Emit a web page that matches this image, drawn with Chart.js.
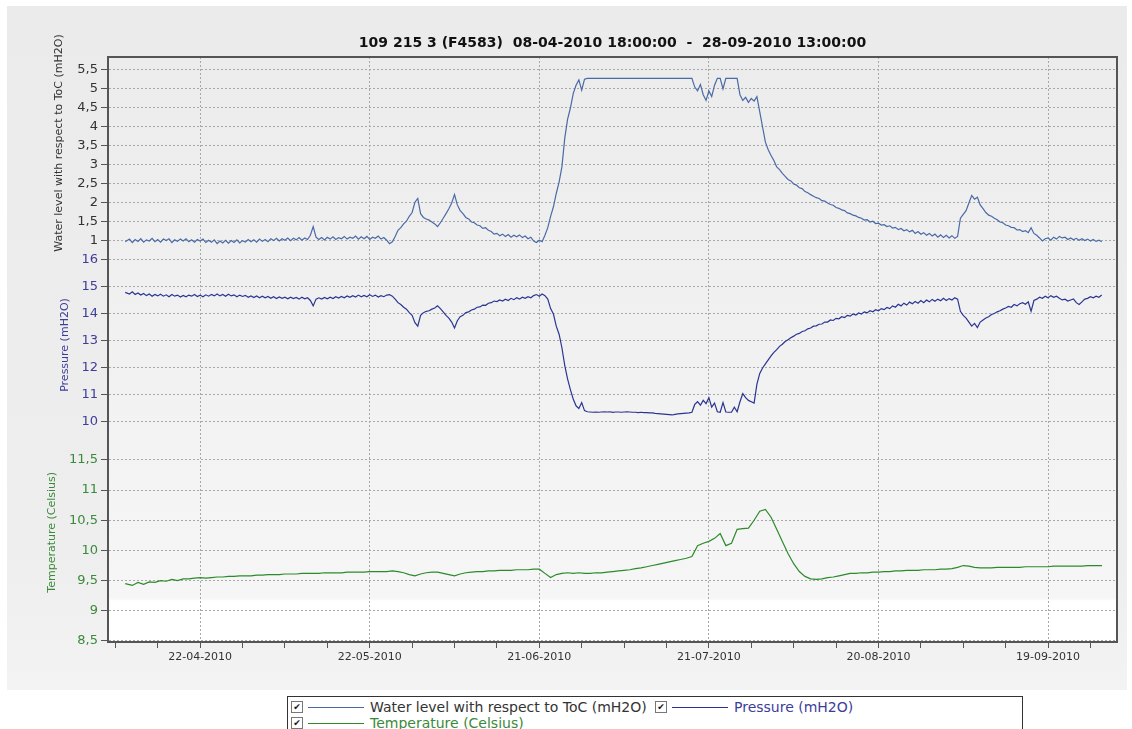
<!DOCTYPE html>
<html>
<head>
<meta charset="utf-8">
<title>109 215 3 (F4583)</title>
<script src="https://cdn.jsdelivr.net/npm/chart.js@4.4.1/dist/chart.umd.min.js"></script>
<style>
    html, body { margin: 0; padding: 0; background: #ffffff; }
    #wrap { position: relative; width: 1132px; height: 729px; overflow: hidden; background: #ffffff; }
    #panel { position: absolute; left: 7px; top: 6px; width: 1120px; height: 684px;
             background: linear-gradient(#ebebeb, #eeeeee 80%, #f3f3f3); }
    #chart { position: absolute; left: 0; top: 0; }
    #legend { position: absolute; left: 287px; top: 696px; width: 736px; height: 44px;
              background: #ffffff; border: 1px solid #333333; box-sizing: border-box;
              font-family: 'DejaVu Sans', sans-serif; font-size: 14px; }
    .row { position: absolute; left: 3px; height: 16px; white-space: nowrap; }
    .item { position: absolute; top: 0; height: 16px; }
    .cb { position: absolute; top: 2px; width: 12px; height: 12px; border: 1px solid #777;
          background: #fff; box-sizing: border-box; font-size: 9px; line-height: 10px;
          text-align: center; color: #111; }
    .ln { position: absolute; top: 8px; width: 56px; height: 0; border-top: 1px solid; }
    .tx { position: absolute; top: 0; line-height: 16px; }
</style>
</head>
<body>
<div id="wrap">
    <div id="panel"></div>
    <canvas id="chart" width="1132" height="729"></canvas>
    <div id="legend"></div>
</div>
<script>
// time axis in days, day 0 = 22-04-2010 00:00
// logger runs from 08-04-2010 18:00 (-13.25) to 28-09-2010 13:00 (159.54)

// sample times for water level and pressure (twice a day)
const halfDays = [
    -13.25,
    -12.5, -12, -11.5, -11, -10.5, -10, -9.5, -9, -8.5, -8,
    -7.5, -7, -6.5, -6, -5.5, -5, -4.5, -4, -3.5, -3,
    -2.5, -2, -1.5, -1, -0.5, 0, 0.5, 1, 1.5, 2,
    2.5, 3, 3.5, 4, 4.5, 5, 5.5, 6, 6.5, 7,
    7.5, 8, 8.5, 9, 9.5, 10, 10.5, 11, 11.5, 12,
    12.5, 13, 13.5, 14, 14.5, 15, 15.5, 16, 16.5, 17,
    17.5, 18, 18.5, 19, 19.5, 20, 20.5, 21, 21.5, 22,
    22.5, 23, 23.5, 24, 24.5, 25, 25.5, 26, 26.5, 27,
    27.5, 28, 28.5, 29, 29.5, 30, 30.5, 31, 31.5, 32,
    32.5, 33, 33.5, 34, 34.5, 35, 35.5, 36, 36.5, 37,
    37.5, 38, 38.5, 39, 39.5, 40, 40.5, 41, 41.5, 42,
    42.5, 43, 43.5, 44, 44.5, 45, 45.5, 46, 46.5, 47,
    47.5, 48, 48.5, 49, 49.5, 50, 50.5, 51, 51.5, 52,
    52.5, 53, 53.5, 54, 54.5, 55, 55.5, 56, 56.5, 57,
    57.5, 58, 58.5, 59, 59.5, 60, 60.5, 61, 61.5, 62,
    62.5, 63, 63.5, 64, 64.5, 65, 65.5, 66, 66.5, 67,
    67.5, 68, 68.5, 69, 69.5, 70, 70.5, 71, 71.5, 72,
    72.5, 73, 73.5, 74, 74.5, 75, 75.5, 76, 76.5, 77,
    77.5, 78, 78.5, 79, 79.5, 80, 80.5, 81, 81.5, 82,
    82.5, 83, 83.5, 84, 84.5, 85, 85.5, 86, 86.5, 87,
    87.5, 88, 88.5, 89, 89.5, 90, 90.5, 91, 91.5, 92,
    92.5, 93, 93.5, 94, 94.5, 95, 95.5, 96, 96.5, 97,
    97.5, 98, 98.5, 99, 99.5, 100, 100.5, 101, 101.5, 102,
    102.5, 103, 103.5, 104, 104.5, 105, 105.5, 106, 106.5, 107,
    107.5, 108, 108.5, 109, 109.5, 110, 110.5, 111, 111.5, 112,
    112.5, 113, 113.5, 114, 114.5, 115, 115.5, 116, 116.5, 117,
    117.5, 118, 118.5, 119, 119.5, 120, 120.5, 121, 121.5, 122,
    122.5, 123, 123.5, 124, 124.5, 125, 125.5, 126, 126.5, 127,
    127.5, 128, 128.5, 129, 129.5, 130, 130.5, 131, 131.5, 132,
    132.5, 133, 133.5, 134, 134.5, 135, 135.5, 136, 136.5, 137,
    137.5, 138, 138.5, 139, 139.5, 140, 140.5, 141, 141.5, 142,
    142.5, 143, 143.5, 144, 144.5, 145, 145.5, 146, 146.5, 147,
    147.5, 148, 148.5, 149, 149.5, 150, 150.5, 151, 151.5, 152,
    152.5, 153, 153.5, 154, 154.5, 155, 155.5, 156, 156.5, 157,
    157.5, 158, 158.5, 159, 159.5
];

const waterLevel = [
    0.98,
    1.05, 0.96, 1.04, 0.99, 1.06, 0.97, 1.03, 1.00, 1.07, 0.98,
    1.04, 0.97, 1.05, 1.01, 1.06, 0.96, 1.03, 0.99, 1.05, 1.00,
    1.06, 0.98, 1.03, 0.97, 1.04, 1.00, 1.05, 0.96, 1.02, 0.97,
    1.03, 0.93, 1.00, 0.95, 1.02, 0.94, 1.01, 0.96, 1.03, 0.95,
    1.01, 0.97, 1.04, 0.98, 1.03, 0.97, 1.05, 0.99, 1.04, 0.98,
    1.06, 1.01, 1.07, 1.00, 1.06, 1.02, 1.08, 1.01, 1.07, 1.03,
    1.09, 1.02, 1.08, 1.04, 1.15, 1.38, 1.10, 1.04, 1.09, 1.03,
    1.10, 1.05, 1.11, 1.04, 1.09, 1.06, 1.12, 1.05, 1.10, 1.07,
    1.13, 1.05, 1.11, 1.06, 1.12, 1.04, 1.10, 1.07, 1.13, 1.05,
    1.09, 1.02, 0.93, 0.98, 1.12, 1.28, 1.35, 1.45, 1.52, 1.65,
    1.75, 2.02, 2.12, 1.72, 1.62, 1.58, 1.55, 1.50, 1.45, 1.38,
    1.48, 1.60, 1.72, 1.85, 2.00, 2.22, 1.95, 1.80, 1.72, 1.62,
    1.58, 1.50, 1.48, 1.42, 1.40, 1.33, 1.35, 1.28, 1.25, 1.18,
    1.20, 1.14, 1.18, 1.12, 1.17, 1.10, 1.15, 1.11, 1.16, 1.09,
    1.13, 1.06, 1.10, 1.00, 0.96, 1.02, 0.98, 1.15, 1.35, 1.65,
    1.90, 2.25, 2.55, 2.95, 3.70, 4.20, 4.50, 4.88, 5.10, 5.24,
    4.97, 5.26, 5.28, 5.28, 5.28, 5.28, 5.28, 5.28, 5.28, 5.28,
    5.28, 5.28, 5.28, 5.28, 5.28, 5.28, 5.28, 5.28, 5.28, 5.28,
    5.28, 5.28, 5.28, 5.28, 5.28, 5.28, 5.28, 5.28, 5.28, 5.28,
    5.28, 5.28, 5.28, 5.28, 5.28, 5.28, 5.28, 5.28, 5.28, 5.28,
    5.05, 4.95, 5.12, 4.85, 4.70, 4.95, 4.80, 5.10, 5.28, 5.28,
    5.00, 5.28, 5.28, 5.28, 5.28, 5.28, 4.85, 4.70, 4.78, 4.65,
    4.75, 4.68, 4.80, 4.40, 4.00, 3.60, 3.40, 3.25, 3.12, 2.95,
    2.88, 2.78, 2.70, 2.62, 2.58, 2.50, 2.47, 2.40, 2.38, 2.30,
    2.27, 2.22, 2.18, 2.14, 2.12, 2.06, 2.05, 2.00, 1.96, 1.94,
    1.88, 1.86, 1.82, 1.80, 1.74, 1.72, 1.68, 1.66, 1.62, 1.60,
    1.55, 1.56, 1.50, 1.52, 1.46, 1.47, 1.42, 1.43, 1.38, 1.40,
    1.34, 1.36, 1.30, 1.33, 1.27, 1.30, 1.24, 1.28, 1.20, 1.25,
    1.18, 1.22, 1.15, 1.20, 1.13, 1.18, 1.10, 1.16, 1.09, 1.15,
    1.08, 1.14, 1.07, 1.12, 1.60, 1.70, 1.80, 2.00, 2.20, 2.10,
    2.15, 1.95, 1.85, 1.75, 1.68, 1.65, 1.60, 1.56, 1.50, 1.48,
    1.42, 1.40, 1.36, 1.35, 1.29, 1.30, 1.25, 1.27, 1.22, 1.35,
    1.20, 1.15, 1.08, 1.00, 1.06, 1.08, 1.02, 1.10, 1.05, 1.12,
    1.08, 1.10, 1.04, 1.08, 1.03, 1.07, 1.02, 1.06, 1.01, 1.05,
    1.00, 1.04, 0.99, 1.02, 0.98
];

const pressure = [
    14.80,
    14.74, 14.82, 14.72, 14.78, 14.70, 14.76, 14.68, 14.74, 14.66, 14.72,
    14.67, 14.73, 14.66, 14.71, 14.64, 14.72, 14.66, 14.70, 14.63, 14.69,
    14.64, 14.70, 14.66, 14.72, 14.65, 14.70, 14.64, 14.71, 14.66, 14.72,
    14.67, 14.74, 14.67, 14.72, 14.66, 14.73, 14.67, 14.71, 14.64, 14.70,
    14.65, 14.69, 14.62, 14.67, 14.61, 14.67, 14.60, 14.66, 14.60, 14.65,
    14.58, 14.64, 14.57, 14.63, 14.58, 14.62, 14.56, 14.62, 14.57, 14.61,
    14.55, 14.62, 14.56, 14.60, 14.50, 14.30, 14.55, 14.60, 14.55, 14.61,
    14.56, 14.62, 14.57, 14.64, 14.59, 14.65, 14.60, 14.67, 14.62, 14.68,
    14.63, 14.70, 14.64, 14.69, 14.64, 14.71, 14.65, 14.70, 14.63, 14.68,
    14.64, 14.70, 14.72, 14.66, 14.55, 14.42, 14.35, 14.25, 14.18, 14.05,
    13.95, 13.68, 13.55, 13.95, 14.05, 14.10, 14.12, 14.18, 14.22, 14.30,
    14.20, 14.08, 13.95, 13.85, 13.70, 13.48, 13.75, 13.90, 13.95, 14.05,
    14.08, 14.15, 14.18, 14.25, 14.26, 14.33, 14.32, 14.40, 14.42, 14.48,
    14.46, 14.52, 14.48, 14.55, 14.50, 14.58, 14.53, 14.60, 14.55, 14.62,
    14.58, 14.64, 14.60, 14.68, 14.72, 14.66, 14.74, 14.68, 14.55, 14.20,
    14.00, 13.55, 13.25, 12.75, 12.10, 11.60, 11.20, 10.85, 10.60, 10.50,
    10.72, 10.42, 10.38, 10.37, 10.36, 10.37, 10.36, 10.37, 10.38, 10.37,
    10.38, 10.36, 10.37, 10.37, 10.36, 10.37, 10.38, 10.37, 10.36, 10.36,
    10.35, 10.36, 10.35, 10.35, 10.34, 10.34, 10.32, 10.31, 10.30, 10.29,
    10.28, 10.27, 10.26, 10.28, 10.30, 10.31, 10.32, 10.33, 10.34, 10.36,
    10.65, 10.75, 10.62, 10.80, 10.68, 10.90, 10.55, 10.70, 10.38, 10.36,
    10.72, 10.37, 10.36, 10.36, 10.55, 10.38, 10.75, 11.05, 10.90, 10.80,
    10.75, 10.70, 11.40, 11.80, 12.00, 12.15, 12.30, 12.45, 12.58, 12.68,
    12.80, 12.88, 12.98, 13.05, 13.12, 13.18, 13.25, 13.28, 13.35, 13.38,
    13.45, 13.48, 13.55, 13.56, 13.62, 13.63, 13.70, 13.70, 13.78, 13.76,
    13.84, 13.82, 13.90, 13.87, 13.95, 13.92, 14.00, 13.96, 14.04, 14.00,
    14.08, 14.04, 14.12, 14.08, 14.16, 14.12, 14.20, 14.16, 14.24, 14.20,
    14.30, 14.25, 14.36, 14.30, 14.40, 14.33, 14.44, 14.38, 14.46, 14.40,
    14.50, 14.42, 14.52, 14.45, 14.54, 14.47, 14.55, 14.49, 14.58, 14.50,
    14.57, 14.52, 14.60, 14.55, 14.10, 13.95, 13.85, 13.70, 13.55, 13.65,
    13.50, 13.70, 13.78, 13.85, 13.90, 13.98, 14.02, 14.08, 14.12, 14.18,
    14.22, 14.28, 14.25, 14.35, 14.30, 14.38, 14.42, 14.36, 14.45, 14.10,
    14.50, 14.55, 14.62, 14.58, 14.66, 14.60, 14.68, 14.62, 14.66, 14.58,
    14.52, 14.55, 14.48, 14.52, 14.56, 14.42, 14.35, 14.45, 14.55, 14.58,
    14.64, 14.60, 14.66, 14.62, 14.70
];

// sample times for temperature (daily)
const days = [
    -13.25,
    -12, -11, -10, -9, -8, -7, -6, -5, -4, -3,
    -2, -1, 0, 1, 2, 3, 4, 5, 6, 7,
    8, 9, 10, 11, 12, 13, 14, 15, 16, 17,
    18, 19, 20, 21, 22, 23, 24, 25, 26, 27,
    28, 29, 30, 31, 32, 33, 34, 35, 36, 37,
    38, 39, 40, 41, 42, 43, 44, 45, 46, 47,
    48, 49, 50, 51, 52, 53, 54, 55, 56, 57,
    58, 59, 60, 61, 62, 63, 64, 65, 66, 67,
    68, 69, 70, 71, 72, 73, 74, 75, 76, 77,
    78, 79, 80, 81, 82, 83, 84, 85, 86, 87,
    88, 89, 90, 91, 92, 93, 94, 95, 96, 97,
    98, 99, 100, 101, 102, 103, 104, 105, 106, 107,
    108, 109, 110, 111, 112, 113, 114, 115, 116, 117,
    118, 119, 120, 121, 122, 123, 124, 125, 126, 127,
    128, 129, 130, 131, 132, 133, 134, 135, 136, 137,
    138, 139, 140, 141, 142, 143, 144, 145, 146, 147,
    148, 149, 150, 151, 152, 153, 154, 155, 156, 157,
    158, 159,
    159.54
];

const temperature = [
    9.45,
    9.42, 9.47, 9.44, 9.48, 9.47, 9.50, 9.49, 9.52, 9.50, 9.53,
    9.53, 9.54, 9.55, 9.54, 9.55, 9.56, 9.56, 9.57, 9.57, 9.58,
    9.58, 9.58, 9.59, 9.59, 9.60, 9.60, 9.60, 9.61, 9.61, 9.61,
    9.62, 9.62, 9.62, 9.62, 9.63, 9.63, 9.63, 9.63, 9.64, 9.64,
    9.64, 9.64, 9.65, 9.65, 9.65, 9.65, 9.66, 9.65, 9.63, 9.60,
    9.58, 9.61, 9.63, 9.64, 9.64, 9.62, 9.60, 9.58, 9.61, 9.63,
    9.64, 9.65, 9.65, 9.66, 9.66, 9.67, 9.67, 9.67, 9.68, 9.68,
    9.68, 9.69, 9.69, 9.62, 9.55, 9.60, 9.62, 9.63, 9.62, 9.63,
    9.62, 9.62, 9.63, 9.63, 9.64, 9.65, 9.66, 9.67, 9.68, 9.70,
    9.71, 9.73, 9.75, 9.77, 9.79, 9.81, 9.83, 9.85, 9.87, 9.90,
    10.08, 10.12, 10.15, 10.20, 10.28, 10.08, 10.12, 10.35, 10.36, 10.37,
    10.50, 10.65, 10.68, 10.55, 10.35, 10.15, 9.95, 9.78, 9.65, 9.57,
    9.53, 9.52, 9.53, 9.55, 9.56, 9.58, 9.60, 9.62, 9.62, 9.63,
    9.63, 9.64, 9.64, 9.65, 9.65, 9.66, 9.66, 9.67, 9.67, 9.67,
    9.68, 9.68, 9.68, 9.69, 9.69, 9.70, 9.72, 9.75, 9.74, 9.72,
    9.71, 9.71, 9.71, 9.72, 9.72, 9.72, 9.72, 9.72, 9.73, 9.73,
    9.73, 9.73, 9.73, 9.74, 9.74, 9.74, 9.74, 9.74, 9.74, 9.75,
    9.75, 9.75,
    9.75
];

// labelled date ticks every 30 days, small ticks in between
const xTickDays = [0, 30, 60, 90, 120, 150];
const xMinorTickDays = [-15, -7.5, 7.5, 15, 22.5, 37.5, 45, 52.5, 67.5, 75, 82.5,
    97.5, 105, 112.5, 127.5, 135, 142.5, 157.5];
const waterTicks = [1, 1.5, 2, 2.5, 3, 3.5, 4, 4.5, 5, 5.5];
const pressureTicks = [10, 11, 12, 13, 14, 15, 16];
const temperatureTicks = [8.5, 9, 9.5, 10, 10.5, 11, 11.5];

const seriesNames = ['Water level with respect to ToC (mH2O)', 'Pressure (mH2O)', 'Temperature (Celsius)'];
const lineColors = ['#4a6aa6', '#2a3592', '#2c8a2c'];
const textColors = ['#333333', '#3d3d9a', '#3a8a3a'];

const FONT = 'DejaVu Sans';
const GRID = '#a8a8a8';

function toPoints(xs, values) {
    return values.map((v, i) => ({ x: xs[i], y: v }));
}

function dayLabel(d) {
    const dt = new Date(2010, 3, 22 + d);
    const dd = String(dt.getDate()).padStart(2, '0');
    const mm = String(dt.getMonth() + 1).padStart(2, '0');
    return dd + '-' + mm + '-' + dt.getFullYear();
}

function comma(v) {
    return String(v).replace('.', ',');
}

function isMajorX(c) {
    return c.tick && xTickDays.includes(c.tick.value);
}

function yAxis(ticks, min, max, weight, color, title, titlePad) {
    return {
        type: 'linear',
        position: 'left',
        stack: 'left',
        stackWeight: weight,
        min: min,
        max: max,
        afterBuildTicks: scale => { scale.ticks = ticks.map(v => ({ value: v })); },
        afterFit: scale => { scale.width = 108; },
        ticks: {
            autoSkip: false,
            color: color,
            padding: 3,
            font: { family: FONT, size: 13 },
            callback: v => comma(v)
        },
        grid: {
            color: GRID,
            lineWidth: 1,
            tickLength: 7,
            tickColor: '#555555',
            tickWidth: 1
        },
        border: { display: true, color: '#555555', width: 2, dash: [2, 2] },
        title: {
            display: true,
            text: title,
            color: color,
            font: { family: FONT, size: 11 },
            padding: { top: titlePad, bottom: 0 }
        }
    };
}

// plot background and frame
const framePlugin = {
    id: 'frame',
    beforeDraw(chart) {
        const { ctx, chartArea: a } = chart;
        const g = ctx.createLinearGradient(0, a.top, 0, a.bottom);
        g.addColorStop(0, '#ececec');
        g.addColorStop(0.5, '#f1f1f1');
        g.addColorStop(0.925, '#f6f6f6');
        g.addColorStop(0.93, '#ffffff');
        g.addColorStop(1, '#ffffff');
        ctx.save();
        ctx.fillStyle = g;
        ctx.fillRect(a.left, a.top, a.right - a.left, a.bottom - a.top);
        ctx.restore();
    },
    afterDraw(chart) {
        const { ctx, chartArea: a } = chart;
        ctx.save();
        ctx.strokeStyle = '#555555';
        ctx.lineWidth = 2;
        ctx.strokeRect(a.left, a.top, a.right - a.left, a.bottom - a.top);
        ctx.restore();
    }
};

const ctx = document.getElementById('chart').getContext('2d');
new Chart(ctx, {
    type: 'line',
    data: {
        datasets: [
            { label: seriesNames[0], data: toPoints(halfDays, waterLevel), yAxisID: 'yWater' },
            { label: seriesNames[1], data: toPoints(halfDays, pressure), yAxisID: 'yPressure' },
            { label: seriesNames[2], data: toPoints(days, temperature), yAxisID: 'yTemp' }
        ].map((ds, i) => Object.assign(ds, {
            borderColor: lineColors[i],
            backgroundColor: lineColors[i],
            borderWidth: 1.2,
            pointRadius: 0,
            tension: 0,
            fill: false
        }))
    },
    options: {
        responsive: false,
        animation: false,
        layout: { padding: { left: 0, right: 15, top: 0, bottom: 57 } },
        plugins: {
            legend: { display: false },
            tooltip: { enabled: false },
            title: {
                display: true,
                fullSize: false,
                text: '109 215 3 (F4583)  08-04-2010 18:00:00  -  28-09-2010 13:00:00',
                color: '#111111',
                font: { family: FONT, size: 14, weight: 'bold' },
                padding: { top: 34.6, bottom: 5.6 }
            }
        },
        scales: {
            x: {
                type: 'linear',
                min: -16.3,
                max: 162.2,
                afterBuildTicks: scale => {
                    scale.ticks = xTickDays.concat(xMinorTickDays)
                        .sort((a, b) => a - b)
                        .map(v => ({ value: v }));
                },
                afterFit: scale => { scale.height = 30; },
                ticks: {
                    autoSkip: false,
                    maxRotation: 0,
                    color: '#333333',
                    padding: 3,
                    font: { family: FONT, size: 11 },
                    callback: v => xTickDays.includes(v) ? dayLabel(v) : ''
                },
                grid: {
                    color: c => isMajorX(c) ? GRID : 'rgba(0,0,0,0)',
                    tickLength: 6,
                    tickColor: '#555555'
                },
                border: { display: true, color: '#555555', width: 2, dash: [2, 2] }
            },
            // leading spaces nudge the rotated titles up to where the original has them
            yTemp: yAxis(temperatureTicks, 8.483, 11.83, 202, textColors[2], '     ' + seriesNames[2], 46),
            yPressure: yAxis(pressureTicks, 9.333, 16.37, 190, textColors[1], seriesNames[1], 59),
            yWater: yAxis(waterTicks, 0.763, 5.842, 193, textColors[0], '      ' + seriesNames[0], 53)
        }
    },
    plugins: [framePlugin]
});

// legend in the style of the original viewer
const legendRows = [
    [{ i: 0, x: 0 }, { i: 1, x: 364 }],
    [{ i: 2, x: 0 }]
];
const legend = document.getElementById('legend');
legendRows.forEach((row, r) => {
    const rowEl = document.createElement('div');
    rowEl.className = 'row';
    rowEl.style.top = (2 + r * 16) + 'px';
    row.forEach(it => {
        const item = document.createElement('div');
        item.className = 'item';
        item.style.left = it.x + 'px';
        item.innerHTML = `
            <span class="cb" style="left:0">&#10004;</span>
            <span class="ln" style="left:17px;border-color:${lineColors[it.i]}"></span>
            <span class="tx" style="left:79px;color:${textColors[it.i]}">${seriesNames[it.i]}</span>`;
        rowEl.appendChild(item);
    });
    legend.appendChild(rowEl);
});
</script>
</body>
</html>
